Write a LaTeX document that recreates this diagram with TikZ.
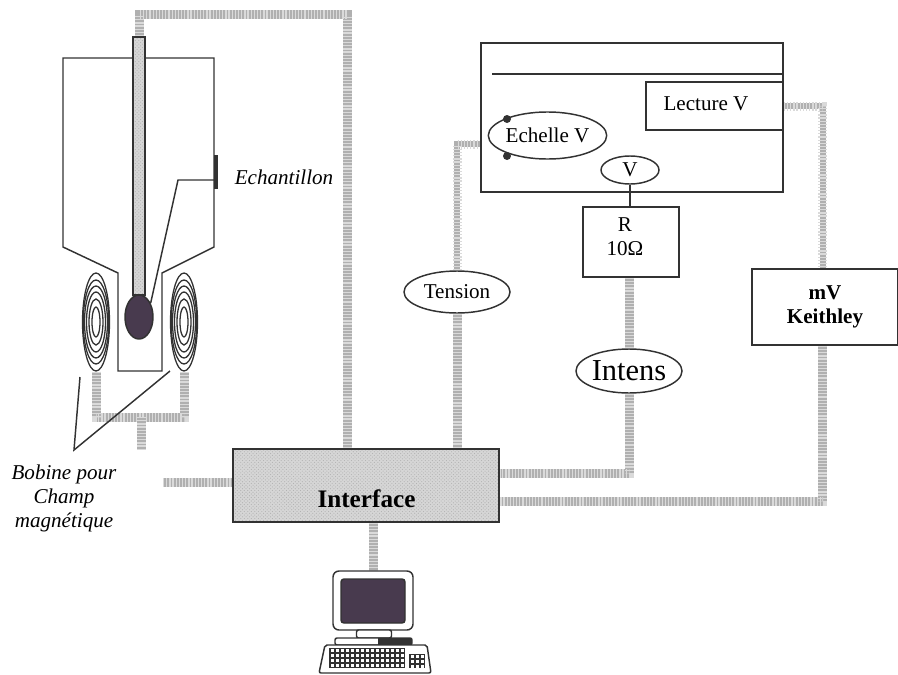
\documentclass[tikz,border=0pt]{standalone}
\usepackage{fontspec}
\setmainfont{Liberation Serif}
\usepackage{xcolor}
\definecolor{inkline}{RGB}{50,50,50}
\definecolor{wiregrey}{RGB}{176,176,176}
\definecolor{wirelight}{RGB}{218,218,218}
\definecolor{ifacegrey}{RGB}{214,214,214}
\definecolor{darkpurple}{RGB}{72,58,78}
\usepackage{tikz}
\usetikzlibrary{shapes.geometric,backgrounds,patterns}
\newcommand{\unitpx}{0.03cm}
\newcommand{\txt}{\fontsize{18}{20.5}\selectfont}
\tikzset{
  line/.style={draw=inkline, line width=1.25pt},
  wire/.style={draw=wiregrey, line width=9*\unitpx, postaction={draw=wirelight, line width=9*\unitpx, dash pattern=on 1.1pt off 1.6pt}},
  thinwire/.style={wire, line width=6*\unitpx, postaction={draw=wirelight, line width=6*\unitpx, dash pattern=on 1.1pt off 1.6pt}},
  boxnode/.style={line, rectangle, inner sep=0pt, align=center, font=\txt},
  dotbox/.style={boxnode, preaction={fill=ifacegrey}, pattern=crosshatch dots, pattern color=gray!60},
  oval/.style={line, ellipse, inner sep=0pt, align=center, font=\txt, fill=white},
  coil/.style={draw=inkline, line width=1.1pt, ellipse, inner sep=0pt},
  lbl/.style={inner sep=0pt, align=center, font=\txt},
  dev/.style={line, fill=white, rounded corners=2*\unitpx}
}
\begin{document}
\begin{tikzpicture}[x=0.03cm,y=-0.03cm]
  \useasboundingbox (0,0) rectangle (898,675);
  % cryostat
  \draw[line] (63,58) -- (214,58) -- (214,247) -- (162,273) -- (162,371) -- (118,371) -- (118,273) -- (63,247) -- cycle;
  \node[dotbox, minimum width=12*\unitpx, minimum height=258*\unitpx] (rod) at (139,166) {};
  \node[oval, fill=darkpurple, minimum width=28*\unitpx, minimum height=44*\unitpx] (blob) at (139,317) {};
  \node[boxnode, fill=inkline, minimum width=3*\unitpx, minimum height=32*\unitpx] (sample) at (216,172) {};
  \coordinate (samplebend) at (178,180);
  \draw[line] (blob.50) -- (samplebend) -- (samplebend -| sample.west);
  \node[lbl, font=\txt\itshape] (samplelbl) at (284,177) {Echantillon};
  % coils
  \foreach \rx/\ry [count=\i] in {4/15,7/23,9.5/30,11.5/36,12.8/42,13.5/49}{
    \node[coil, minimum width=2*\rx*\unitpx, minimum height=2*\ry*\unitpx] (coilL\i) at (96,322) {};
    \node[coil, minimum width=2*\rx*\unitpx, minimum height=2*\ry*\unitpx] (coilR\i) at (184,322) {};
  }
  \node[lbl, font=\txt\itshape] (coillbl) at (64,498) {Bobine pour\\Champ\\magn\'etique};
  % instrument
  \node[boxnode, minimum width=302*\unitpx, minimum height=149*\unitpx] (instr) at (632,117.5) {};
  \coordinate (barstart) at (492,74);
  \draw[line] (barstart) -- (barstart -| instr.east);
  \node[boxnode, minimum width=137*\unitpx, minimum height=48*\unitpx] (lecture) at (714.5,106) {};
  \node[lbl] (lecturelbl) at (706,104) {Lecture V};
  \node[oval, minimum width=111*\unitpx, minimum height=47*\unitpx] (echelle) at (547.5,135.5) {Echelle V};
  \fill[inkline] (507,119) circle (4);
  \fill[inkline] (507,156) circle (4);
  \node[oval, minimum width=58*\unitpx, minimum height=28*\unitpx] (volt) at (630,170) {V};
  \node[boxnode, minimum width=96*\unitpx, minimum height=70*\unitpx] (rbox) at (631,242) {};
  \node[lbl] (rlbl) at (625,237) {R\\10Ω};
  \draw[line] (volt.south) -- (rbox.north -| volt.south);
  % signal ovals and boxes
  \node[oval, minimum width=106*\unitpx, minimum height=42*\unitpx] (tension) at (457,292) {Tension};
  \node[oval, minimum width=106*\unitpx, minimum height=44*\unitpx, font=\fontsize{26}{28}\selectfont] (intens) at (629,371) {Intens};
  \node[boxnode, minimum width=146*\unitpx, minimum height=76*\unitpx, font=\txt\bfseries] (keithley) at (825,307) {mV\\Keithley};
  \node[dotbox, minimum width=266*\unitpx, minimum height=73*\unitpx] (iface) at (366,485.5) {};
  \node[lbl, font=\fontsize{21.5}{24}\selectfont\bfseries] (ifacelbl) at (366.5,499) {Interface};
  % computer
  \node[dev, minimum width=80*\unitpx, minimum height=59*\unitpx, rounded corners=6*\unitpx, inner sep=0pt] (monitor) at (373,600.5) {};
  \node[line, fill=darkpurple, rectangle, rounded corners=3*\unitpx, minimum width=64*\unitpx, minimum height=44*\unitpx, inner sep=0pt] (screen) at (373,601) {};
  \node[dev, minimum width=35*\unitpx, minimum height=8*\unitpx, inner sep=0pt] (neck) at (374,634) {};
  \node[dev, minimum width=77*\unitpx, minimum height=7*\unitpx, inner sep=0pt] (base) at (373.5,641.5) {};
  \fill[inkline] (378,638) rectangle (412,645);
  \draw[dev] (325,645) -- (427,645) -- (431,673) -- (319,673) -- cycle;
  \fill[inkline] (329,648) rectangle (405,668);
  \fill[inkline] (409,654) rectangle (425,668);
  \foreach \row in {649,654,659,664}
    \foreach \col in {331,336,...,401}
      \fill[white] (\col,\row) rectangle +(3.4,3.2);
  \foreach \row in {655,660,664.5}
    \foreach \col in {410.5,415.5,420.5}
      \fill[white] (\col,\row) rectangle +(3.4,3);
  % wires
  \coordinate (topbend) at (347,15);
  \coordinate (coilbend) at (141,417);
  \coordinate (coilstub) at (141,449);
  \coordinate (fieldin) at (163,482);
  \begin{scope}[on background layer]
    \draw[wire] (rod.north) |- (topbend) -- (topbend |- iface.north);
    \draw[wire] (coilL6.south) |- (coilbend) -| (coilR6.south);
    \draw[wire] (coilbend) -- (coilstub);
    \draw[wire] (fieldin) -- (fieldin -| iface.west);
    \draw[thinwire] (tension.north) |- (instr.190.7);
    \draw[wire] (tension.south) -- (tension.south |- iface.north);
    \draw[wire] (rbox.south -| intens.north) -- (intens.north);
    \draw[wire] (intens.south) |- (iface.5.4);
    \draw[thinwire] (lecture.east) -| (keithley.93);
    \draw[wire] (keithley.-93) |- (iface.-7.9);
    \draw[wire] (iface.south -| monitor.north) -- (monitor.north);
  \end{scope}
  % pointer to the coils
  \coordinate (ptrleft) at (80,377);
  \coordinate (ptrapex) at (74,450);
  \coordinate (ptrright) at (170,371);
  \draw[line] (ptrleft) -- (ptrapex) -- (ptrright);
\end{tikzpicture}
\end{document}
